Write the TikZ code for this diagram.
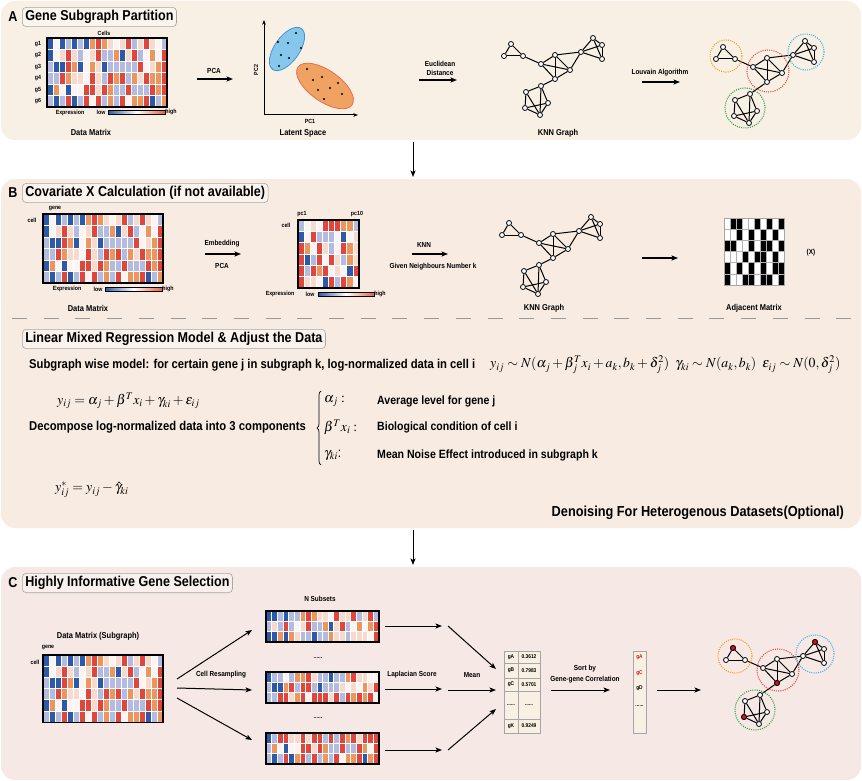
\documentclass[tikz,border=0pt]{standalone}
\usepackage{mathptmx}
\usepackage[no-math]{fontspec}
\setmainfont{Liberation Sans}[FakeStretch=0.88]
\usetikzlibrary{arrows.meta,decorations.pathreplacing}
\definecolor{panA}{HTML}{F8F0E4}
\definecolor{panB}{HTML}{F7EBE2}
\definecolor{panC}{HTML}{F6E8E4}
\definecolor{hmB}{HTML}{2C5AA8}
\definecolor{hmb}{HTML}{B4BBE0}
\definecolor{hmw}{HTML}{FBF4F2}
\definecolor{hmp}{HTML}{F8DACC}
\definecolor{hmo}{HTML}{EC955F}
\definecolor{hmr}{HTML}{E0463B}
\definecolor{adj0}{HTML}{FFFFFF}
\definecolor{adj1}{HTML}{000000}
\definecolor{cOr}{HTML}{F2A322}
\definecolor{cRe}{HTML}{E8443F}
\definecolor{cBl}{HTML}{3DB2E3}
\definecolor{cGr}{HTML}{2FA24A}
\definecolor{ellB}{HTML}{86C7EC}
\definecolor{ellBd}{HTML}{4C8FCB}
\definecolor{ellO}{HTML}{EFA262}
\definecolor{ellOd}{HTML}{E66F4E}
\definecolor{redn}{HTML}{E01010}
\definecolor{tabf}{HTML}{F8F0E2}
\definecolor{barR}{HTML}{E8603A}

\def\sixdots{......}
\def\rowsM{{B,w,B,b,B,b,B,o,r,o,p,w,p,r,b,p,r,p,w,b},{B,w,p,r,p,b,w,p,r,b,b,o,B,p,r,b,w,o,w,r},{b,B,B,r,o,B,w,o,p,B,b,b,b,b,b,r,w,p,o,r},{b,b,r,o,p,p,w,r,p,b,r,o,r,b,o,p,r,o,o,r},{B,o,w,B,w,w,r,r,p,r,o,b,b,r,b,b,b,r,o,r},{b,B,b,r,B,b,r,w,r,b,o,b,r,w,o,o,r,B,b,o}}
\def\rowsPC{{b,w,p,w,r,r,r,o,o,b},{B,w,r,b,b,b,w,B,w,p},{r,o,w,r,p,b,w,r,o,p},{r,B,b,r,w,r,p,b,o,p},{r,b,r,o,r,w,p,w,B,r},{r,p,p,w,B,r,b,r,o,w}}
\def\rowsSa{{B,B,b,B,b,b,o,r,o,p,p,w,r,p,p,r,b,p,r,b},{b,p,b,r,b,w,p,r,b,b,o,B,p,r,b,w,o,w,o,r},{B,B,o,B,o,p,b,b,B,b,b,o,p,p,b,p,p,p,w,r}}
\def\rowsSb{{B,b,b,w,b,o,o,r,p,b,b,B,b,b,o,r,p,p,w,w},{b,B,B,o,r,b,r,r,b,B,b,b,b,p,w,p,w,o,p,r},{b,b,r,r,p,o,r,w,r,r,r,p,r,b,r,o,r,o,r,w}}
\def\rowsSc{{B,b,r,r,p,p,r,p,r,r,b,r,b,r,o,r,p,r,r,r},{b,o,w,B,w,w,r,r,p,r,o,b,b,r,b,b,r,o,w,r},{b,B,b,r,B,o,r,b,r,b,o,b,r,w,o,o,r,B,o,r}}
\def\rowsAdj{{0,1,1,0,0,1,0,1,0,1},{0,0,1,0,1,0,1,0,1,0},{1,1,0,0,1,0,1,1,0,1},{0,0,0,1,0,1,1,0,1,0},{1,0,1,0,1,0,1,0,1,1},{1,0,0,1,1,0,1,1,0,1}}

% heat map: x0, y0, cell w, cell h, rows, colour prefix, cell border colour
\newcommand{\hmap}[7]{%
  \foreach \rw [count=\ii] in #5 {%
    \foreach \cc [count=\jj] in \rw {%
      \filldraw[fill=#6\cc, draw=#7, line width=0.7pt] ({#1+(\jj-1)*#3},{#2+(\ii-1)*#4}) rectangle ++(#3,#4);
    }%
  }%
}
% colour bar: x left, x right, y
\newcommand{\cbar}[3]{%
  \shade[left color=hmB, right color=barR, middle color=white] (#1,#3-1.8) rectangle (#2,#3+1.8);
  \draw[line width=0.4pt] (#1,#3-1.8) rectangle (#2,#3+1.8);
}
% knn graph: prefix, x, y of m1, extra shift of the lower cluster
\newcommand{\knn}[4]{%
\begin{scope}[shift={(#2,#3)}, name prefix=#1-]
  \foreach \n/\px/\py in {t1/-30/-20, t2/-37/-8, t3/-18/-8, m1/0/0, m2/14/-9, m3/29/6, m4/14/15, r1/40/-12, r2/52/-26, r3/61/-19, r4/61/-5}
    \node[gn] (\n) at (\px,\py) {};
  \foreach \n/\px/\py in {b1/0/22, b2/-15/28, b3/-16/44, b4/-1/51, b5/7/39}
    \node[gn] (\n) at (\px-#4*0.6,\py+#4) {};
  \foreach \a/\b in {t1/t2,t2/t3,t3/t1,t3/m1,m1/m2,m1/m3,m1/m4,m2/m3,m2/m4,m3/m4,m2/r1,m3/r1,r1/r2,r2/r3,r3/r4,r4/r1,r1/r3,r2/r4,m4/b1,b1/b2,b2/b3,b3/b4,b4/b5,b5/b1,b1/b4,b2/b4,b3/b5}
    \draw[gedge] (\a) -- (\b);
\end{scope}}

\begin{document}
\begin{tikzpicture}[x=1pt,y=-1pt,
  arr/.style={-{Stealth[length=6.5pt,width=5pt,inset=1.5pt]}, line width=1.3pt},
  thinarr/.style={-{Stealth[length=6.5pt,width=5pt,inset=1.5pt]}, line width=1pt},
  axarr/.style={-{Stealth[length=4.5pt,width=3.5pt,inset=1pt]}, line width=1pt},
  gn/.style={circle, draw, line width=0.8pt, fill=white, inner sep=0pt, minimum size=5pt},
  gedge/.style={line width=1pt},
  clus/.style={dash pattern=on 1pt off 1.2pt, line width=1.1pt},
  panel/.style={rounded corners=14pt},
  ltr/.style={font=\fontsize{14.3}{16}\selectfont\bfseries},
  tbox/.style={ltr, draw=black!35, rounded corners=4pt, inner xsep=3pt, inner ysep=3pt, anchor=west, line width=0.6pt},
  lbl/.style={font=\fontsize{8.5}{10}\selectfont\bfseries, inner sep=0.5pt},
  sm/.style={font=\fontsize{7.3}{9}\selectfont\bfseries, inner sep=0.5pt},
  tiny/.style={font=\fontsize{6}{7}\selectfont\bfseries, inner sep=0.5pt},
  body/.style={font=\fontsize{12.8}{14}\selectfont\bfseries, anchor=west, inner sep=0pt},
  eqn/.style={font=\fontsize{13.8}{16}\selectfont, anchor=west, inner sep=0pt},
  tabtxt/.style={font=\fontsize{5.5}{6}\selectfont\bfseries, inner sep=0pt}
]
\useasboundingbox (0,0) rectangle (862,781);

% ---------------- panels ----------------
\fill[panA, panel] (1,1) rectangle (861,140);
\fill[panB, panel] (1,179) rectangle (861,528);
\fill[panC, panel] (1,567) rectangle (861,780);

\coordinate (dA1) at (413,142); \coordinate (dA2) at (413,177);
\draw[thinarr] (dA1) -- (dA2);
\coordinate (dB1) at (413,530); \coordinate (dB2) at (413,565);
\draw[thinarr] (dB1) -- (dB2);

% ================= Panel A =================
\node[ltr] (LA) at (13,17) {A};
\node[tbox, fill=white!35!panA] (TA) at (22,17) {Gene Subgraph Partition};

\hmap{47}{38}{6}{11.5}{\rowsM}{hm}{white}
\draw[line width=1.2pt] (47,38) rectangle (167,107);
\node[tiny] (cellsA) at (104,33) {Cells};
\foreach \k in {1,...,6} \node[tiny] (gA\k) at (38,{38+(\k-0.5)*11.5}) {g\k};
\node[tiny] (exA) at (70,113) {Expression};
\node[tiny] (loA) at (101,112) {low};
\cbar{108}{165}{112}
\node[tiny] (hiA) at (171,112) {high};
\node[lbl] (dmA) at (91,132) {Data Matrix};

\coordinate (pcaS) at (197,79); \coordinate (pcaE) at (233,79);
\draw[arr] (pcaS) -- (pcaE);
\node[sm] (pcaL) at (214,71) {PCA};

% latent space
\coordinate (orig) at (264,115); \coordinate (ytop) at (264,20); \coordinate (xend) at (358,115);
\draw[axarr] (orig) -- (ytop);
\draw[axarr] (orig) -- (xend);
\fill[ellB, draw=ellBd, line width=0.8pt, rotate around={55:(287,49)}] (287,49) ellipse [x radius=25pt, y radius=12.5pt];
\fill[ellO, draw=ellOd, line width=0.8pt, rotate around={-35:(325,86)}] (325,86) ellipse [x radius=33pt, y radius=15.5pt];
\foreach \p in {(296,33),(278,42),(288,43),(301,48),(281,55),(289,58),(279,66),(307,69),(313,80),(322,77),(338,83),(318,90),(330,88),(342,94),(324,99)}
  \fill \p circle (1.2pt);
\node[tiny, rotate=90] (pc2) at (256,70) {PC2};
\node[tiny] (pc1) at (310,121) {PC1};
\node[lbl] (lsA) at (303,133) {Latent Space};

\node[sm, align=center] (euc) at (440,68) {Euclidean\\Distance};
\coordinate (eS) at (419,80); \coordinate (eE) at (457,80);
\draw[arr] (eS) -- (eE);

\knn{A}{541}{64}{0}
\node[lbl] (knnA) at (558,133) {KNN Graph};

\node[sm] (louv) at (660,73) {Louvain Algorithm};
\coordinate (lS) at (642,82); \coordinate (lE) at (680,82);
\draw[arr] (lS) -- (lE);

\knn{L}{753}{67}{5}
\draw[clus, cOr] (726,56) circle (16pt);
\draw[clus, cRe] (768,71) circle (21pt);
\draw[clus, cBl] (806,52) circle (18pt);
\draw[clus, cGr] (745,108) circle (20pt);

% ================= Panel B =================
\node[ltr] (LB) at (13,193) {B};
\node[tbox, fill=white!35!panB] (TB) at (22,193) {Covariate X Calculation (if not available)};

\hmap{43}{214}{6}{11.5}{\rowsM}{hm}{white}
\draw[line width=1.2pt] (43,214) rectangle (163,283);
\node[tiny] (geneB) at (55,209) {gene};
\node[tiny] (cellB) at (32,220) {cell};
\node[tiny] (exB) at (67,289) {Expression};
\node[tiny] (loB) at (98,289) {low};
\cbar{105}{162}{289}
\node[tiny] (hiB) at (168,289) {high};
\node[lbl] (dmB) at (88,308) {Data Matrix};

\coordinate (emS) at (205,254); \coordinate (emE) at (241,254);
\draw[arr] (emS) -- (emE);
\node[sm] (embL) at (222,244) {Embedding};
\node[sm] (pcaB) at (222,266) {PCA};

\hmap{298}{220}{6.1}{11.33}{\rowsPC}{hm}{white}
\draw[line width=1.2pt] (298,220) rectangle (359,288);
\node[tiny] (pc1B) at (302,214) {pc1};
\node[tiny] (pc10B) at (357,214) {pc10};
\node[tiny] (cellB2) at (286,225) {cell};
\node[tiny] (exB2) at (280,294) {Expression};
\node[tiny] (loB2) at (310,294) {low};
\cbar{318}{374}{294}
\node[tiny] (hiB2) at (380,294) {high};

\coordinate (kS) at (412,254); \coordinate (kE) at (448,254);
\draw[arr] (kS) -- (kE);
\node[sm] (knnL) at (424,245) {KNN};
\node[sm] (gnn) at (433,267) {Given Neighbours Number k};

\knn{Bg}{539}{243}{0}
\node[lbl] (knnB) at (544,308) {KNN Graph};

\coordinate (aS) at (642,258); \coordinate (aE) at (678,258);
\draw[arr] (aS) -- (aE);

\hmap{724}{218}{6}{11.2}{\rowsAdj}{adj}{black!30}
\draw[line width=0.8pt, black!35] (724,218) rectangle (784,285.2);
\node[sm] (Xlab) at (811,253) {(X)};
\node[lbl] (adjL) at (754,308) {Adjacent Matrix};

\coordinate (dl) at (12,318); \coordinate (dr) at (852,318);
\draw[black!40, line width=0.8pt, dash pattern=on 15pt off 16.7pt] (dl) -- (dr);

% linear mixed model
\node[tbox, fill=white!35!panB] (TL) at (22,339) {Linear Mixed Regression Model \& Adjust the Data};
\node[body] (sub) at (29,365) {Subgraph wise model: for certain gene j in subgraph k, log-normalized data in cell i};
\node[eqn] (eqR) at (490,365) {$y_{ij}\sim N(\alpha_j+\beta_j^T x_i+a_k, b_k+\delta_j^2)\;\;\gamma_{ki}\sim N(a_k,b_k)\;\;\varepsilon_{ij}\sim N(0,\delta_j^2)$};
\node[eqn] (eq1) at (57,401) {$y_{ij}=\alpha_j+\beta^T x_i+\gamma_{ki}+\varepsilon_{ij}$};
\node[body] (dec) at (29,427) {Decompose log-normalized data into 3 components};
\coordinate (brB) at (321,465); \coordinate (brT) at (321,391);
\draw[line width=0.7pt, decorate, decoration={brace, amplitude=4pt, aspect=0.5}] (brB) -- (brT);
\node[eqn] (it1) at (324,401) {$\alpha_j:$};
\node[eqn] (it2) at (324,427) {$\beta^T x_i:$};
\node[eqn] (it3) at (324,455) {$\gamma_{ki}$:};
\node[body, font=\fontsize{12}{14}\selectfont\bfseries] (lb1) at (377,401) {Average level for gene j};
\node[body, font=\fontsize{12}{14}\selectfont\bfseries] (lb2) at (377,427) {Biological condition of cell i};
\node[body, font=\fontsize{12}{14}\selectfont\bfseries] (lb3) at (377,455) {Mean Noise Effect introduced in subgraph k};
\node[eqn] (ys) at (55,490) {$y^*_{ij}=y_{ij}-\hat{\gamma}_{ki}$};
\node[body, anchor=east, font=\fontsize{14.5}{16}\selectfont\bfseries] (den) at (844,513) {Denoising For Heterogenous Datasets(Optional)};

% ================= Panel C =================
\node[ltr] (LC) at (13,583) {C};
\node[tbox, fill=white!35!panC] (TC) at (22,583) {Highly Informative Gene Selection};

\node[lbl] (dmC) at (98,636) {Data Matrix (Subgraph)};
\node[tiny] (geneC) at (48,648) {gene};
\node[tiny] (cellC) at (35,662) {cell};
\hmap{43}{655}{6}{11.2}{\rowsM}{hm}{white}
\draw[line width=1.2pt] (43,655) rectangle (163,722.2);

\coordinate (cs) at (177,679); \coordinate (cs2) at (177,688); \coordinate (cs3) at (177,698);
\coordinate (ce1) at (252,630); \coordinate (ce2) at (252,690); \coordinate (ce3) at (252,740);
\draw[thinarr] (cs) -- (ce1);
\draw[thinarr] (cs2) -- (ce2);
\draw[thinarr] (cs3) -- (ce3);
\node[sm] (cres) at (221,675) {Cell Resampling};

\node[sm] (nsub) at (320,599) {N Subsets};
\hmap{266}{611}{5.65}{10.3}{\rowsSa}{hm}{white}
\draw[line width=1.2pt] (266,611) rectangle (379,641.9);
\hmap{266}{672}{5.65}{10.3}{\rowsSb}{hm}{white}
\draw[line width=1.2pt] (266,672) rectangle (379,702.9);
\hmap{266}{733}{5.65}{10.3}{\rowsSc}{hm}{white}
\draw[line width=1.2pt] (266,733) rectangle (379,763.9);
\node[tiny] (dots1) at (318,658) {\sixdots};
\node[tiny] (dots2) at (318,718) {\sixdots};

\coordinate (ls1) at (385,626); \coordinate (le1) at (442,626);
\coordinate (ls2) at (385,689); \coordinate (le2) at (442,689);
\coordinate (ls3) at (385,750); \coordinate (le3) at (442,750);
\draw[thinarr] (ls1) -- (le1);
\draw[thinarr] (ls2) -- (le2);
\draw[thinarr] (ls3) -- (le3);
\node[sm] (lap) at (412,675) {Laplacian Score};

\coordinate (ms1) at (448,626); \coordinate (me1) at (496,669);
\coordinate (ms2) at (448,690); \coordinate (me2) at (496,690);
\coordinate (ms3) at (448,750); \coordinate (me3) at (496,709);
\draw[thinarr] (ms1) -- (me1);
\draw[thinarr] (ms2) -- (me2);
\draw[thinarr] (ms3) -- (me3);
\node[sm] (mean) at (472,675) {Mean};

% score table
\filldraw[fill=tabf, draw=black!35, line width=0.8pt] (504,651) rectangle (540,733);
\draw[black!35, line width=0.8pt] (518,651) -- (518,733);
\foreach \yy in {663,678,691,719} \draw[black!35, line width=0.8pt] (504,\yy) -- (540,\yy);
\foreach \g/\v/\yy [count=\q] in {gA/0.3612/657, gB/0.7983/670.5, gC/0.5701/684.5, \sixdots/\sixdots/705, gK/0.9249/726}{
  \node[tabtxt] (tg\q) at (511,\yy) {\g};
  \node[tabtxt] (tv\q) at (529,\yy) {\v};
}

\coordinate (sS) at (551,690); \coordinate (sE) at (610,690);
\draw[thinarr] (sS) -- (sE);
\node[sm] (sort1) at (585,669) {Sort by};
\node[sm] (sort2) at (585,680) {Gene-gene Correlation};

\filldraw[fill=tabf, draw=black!35, line width=0.8pt] (633,651) rectangle (646,733);
\node[tabtxt, text=redn] (s1) at (639.5,657) {gA};
\node[tabtxt, text=redn] (s2) at (639.5,673) {gC};
\node[tabtxt] (s3) at (639.5,688) {gD};
\node[tabtxt] (s4) at (639.5,706) {\sixdots};

\coordinate (fS) at (657,690); \coordinate (fE) at (701,690);
\draw[thinarr] (fS) -- (fE);

\knn{Cg}{763}{668}{5}
\node[gn, fill=redn] (rt1) at (Cg-t1) {};
\node[gn, fill=redn] (rm4) at (Cg-m4) {};
\node[gn, fill=redn] (rr2) at (Cg-r2) {};
\node[gn, fill=redn] (rb3) at (Cg-b3) {};
\draw[clus, cOr] (735,656) circle (17pt);
\draw[clus, cRe] (778,670) circle (21pt);
\draw[clus, cBl] (815,654) circle (19pt);
\draw[clus, cGr] (755,710) circle (20pt);
\end{tikzpicture}
\end{document}
